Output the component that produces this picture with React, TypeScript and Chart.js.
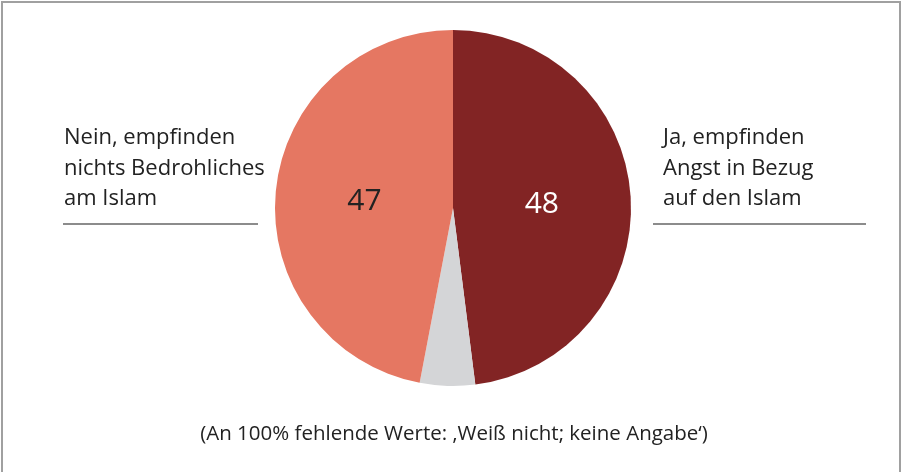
import React, { useEffect, useRef } from "react";
import { Chart, registerables } from "chart.js";

Chart.register(...registerables);

const categories = ["Ja, empfinden Angst in Bezug auf den Islam", "Weiß nicht; keine Angabe", "Nein, empfinden nichts Bedrohliches am Islam"];
const values = [48, 5, 47];
const shownLabels = ["48", "", "47"];
const colors = ["#822424", "#D4D5D7", "#E57762"];
const labelColors = ["#ffffff", "#222222", "#222222"];
const leftText = ["Nein, empfinden", "nichts Bedrohliches", "am Islam"];
const rightText = ["Ja, empfinden", "Angst in Bezug", "auf den Islam"];
const footnote = "(An 100% fehlende Werte: \u201AWeiß nicht; keine Angabe\u2018)";

const FONT = "'Open Sans', 'DejaVu Sans', sans-serif";

const valueLabelPlugin = {
  id: "valueLabels",
  afterDatasetsDraw(chart: any) {
    const ctx = chart.ctx;
    const meta = chart.getDatasetMeta(0);
    ctx.save();
    ctx.font = `30px ${FONT}`;
    ctx.textAlign = "center";
    ctx.textBaseline = "middle";
    meta.data.forEach((arc: any, i: number) => {
      if (!shownLabels[i]) return;
      const p = arc.tooltipPosition();
      ctx.fillStyle = labelColors[i];
      ctx.fillText(shownLabels[i], p.x, p.y + 2);
    });
    ctx.restore();
  },
};

export default function App() {
  const ref = useRef<HTMLCanvasElement>(null);
  useEffect(() => {
    document.body.style.margin = "0";
    const chart = new Chart(ref.current!, {
      type: "pie",
      data: {
        labels: categories,
        datasets: [{ data: values, backgroundColor: colors, borderWidth: 0 }],
      },
      options: {
        animation: false,
        responsive: false,
        maintainAspectRatio: false,
        layout: { padding: { left: 275, right: 271, top: 30, bottom: 86 } },
        plugins: { legend: { display: false }, tooltip: { enabled: false } },
      },
      plugins: [valueLabelPlugin],
    });
    return () => chart.destroy();
  }, []);

  const textStyle: React.CSSProperties = {
    position: "absolute",
    fontFamily: FONT,
    fontSize: 22,
    lineHeight: "30.5px",
    color: "#222",
    whiteSpace: "nowrap",
  };

  return (
    <div style={{ position: "relative", width: 902, height: 472, overflow: "hidden", background: "#fff" }}>
      <div style={{ position: "absolute", left: 1, top: 1, width: 900, height: 490, border: "2px solid #a0a0a0", boxSizing: "border-box" }} />
      <canvas ref={ref} width={902} height={472} style={{ position: "absolute", left: 0, top: 0 }} />
      <div style={{ ...textStyle, left: 64, top: 120 }}>
        {leftText.map((t) => (<div key={t}>{t}</div>))}
      </div>
      <div style={{ position: "absolute", left: 63, top: 223, width: 195, height: 2, background: "#8c8c8c" }} />
      <div style={{ ...textStyle, left: 663, top: 120 }}>
        {rightText.map((t) => (<div key={t}>{t}</div>))}
      </div>
      <div style={{ position: "absolute", left: 653, top: 223, width: 213, height: 2, background: "#8c8c8c" }} />
      <div style={{ ...textStyle, left: 0, width: 908, textAlign: "center", top: 417, fontSize: 20.5 }}>{footnote}</div>
    </div>
  );
}
